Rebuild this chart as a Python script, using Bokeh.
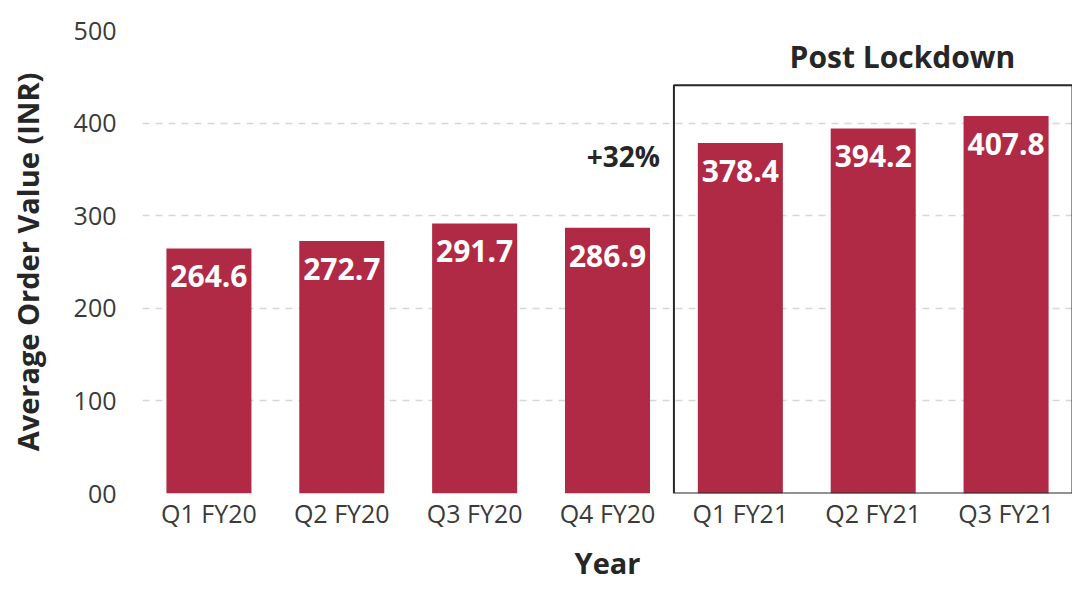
from bokeh.plotting import figure
from bokeh.models import ColumnDataSource, Range1d, FactorRange, BoxAnnotation, Label
from bokeh.core.properties import value
from bokeh.embed import file_html
from bokeh.resources import INLINE

quarters = ["Q1 FY20", "Q2 FY20", "Q3 FY20", "Q4 FY20", "Q1 FY21", "Q2 FY21", "Q3 FY21"]
aov = [264.6, 272.7, 291.7, 286.9, 378.4, 394.2, 407.8]
aov_labels = ["264.6", "272.7", "291.7", "286.9", "378.4", "394.2", "407.8"]
y_ticks = [0, 100, 200, 300, 400, 500]
y_tick_labels = {0: "00", 100: "100", 200: "200", 300: "300", 400: "400", 500: "500"}
growth_text = "+32%"
box_title = "Post Lockdown"
box_top = 441
post_start_index = 4

FONT = "Open Sans"
BAR = "#B12A45"
DARK = "#262626"

src = ColumnDataSource(dict(q=quarters, v=aov, lab=aov_labels))

p = figure(x_range=FactorRange(*quarters, range_padding=0), y_range=Range1d(0, 500),
           width=1072, height=584, output_backend="svg", toolbar_location=None,
           min_border_left=142, min_border_right=0, min_border_top=30, min_border_bottom=0)
p.outline_line_color = None
p.background_fill_color = "white"
p.border_fill_color = "white"

p.vbar(x="q", top="v", bottom=0, width=0.64, source=src, fill_color=BAR, line_color=None)

p.text(x="q", y="v", text="lab", source=src, text_align="center", text_baseline="middle",
       y_offset=28, text_color="white", text_font=value(FONT), text_font_style="bold",
       text_font_size="30px")

box = BoxAnnotation(left=post_start_index, bottom=0, top=box_top, fill_alpha=0,
                    line_color=DARK, line_alpha=1.0, line_width=2)
p.add_layout(box)

p.add_layout(Label(x=post_start_index + 1.72, y=472, text=box_title, text_align="center",
                   text_baseline="middle", text_font=FONT, text_font_style="bold",
                   text_font_size="30px", text_color=DARK))
p.add_layout(Label(x=post_start_index - 0.38, y=364, text=growth_text, text_align="center",
                   text_baseline="middle", text_font=FONT, text_font_style="bold",
                   text_font_size="28px", text_color=DARK))

p.xgrid.grid_line_color = None
p.ygrid.grid_line_color = "#d6d6d6"
p.ygrid.grid_line_dash = "7 6"
p.ygrid.grid_line_width = 1.5
p.yaxis.ticker = y_ticks
p.yaxis.major_label_overrides = y_tick_labels

for ax in (p.xaxis[0], p.yaxis[0]):
    ax.axis_line_color = None
    ax.major_tick_line_color = None
    ax.minor_tick_line_color = None
    ax.major_tick_out = 0
    ax.major_tick_in = 0
    ax.major_label_text_font = FONT
    ax.major_label_text_font_size = "25px"
    ax.major_label_text_color = "#3a3a3a"
    ax.axis_label_text_font = FONT
    ax.axis_label_text_font_style = "bold"
    ax.axis_label_text_font_size = "29px"
    ax.axis_label_text_color = DARK

p.xaxis.axis_label = "Year"
p.yaxis.axis_label = "Average Order Value (INR)"
p.xaxis.major_label_standoff = 2
p.xaxis.axis_label_standoff = 10
p.yaxis.major_label_standoff = 26
p.yaxis.axis_label_standoff = 24

open("out.html", "w").write(file_html(p, INLINE))
